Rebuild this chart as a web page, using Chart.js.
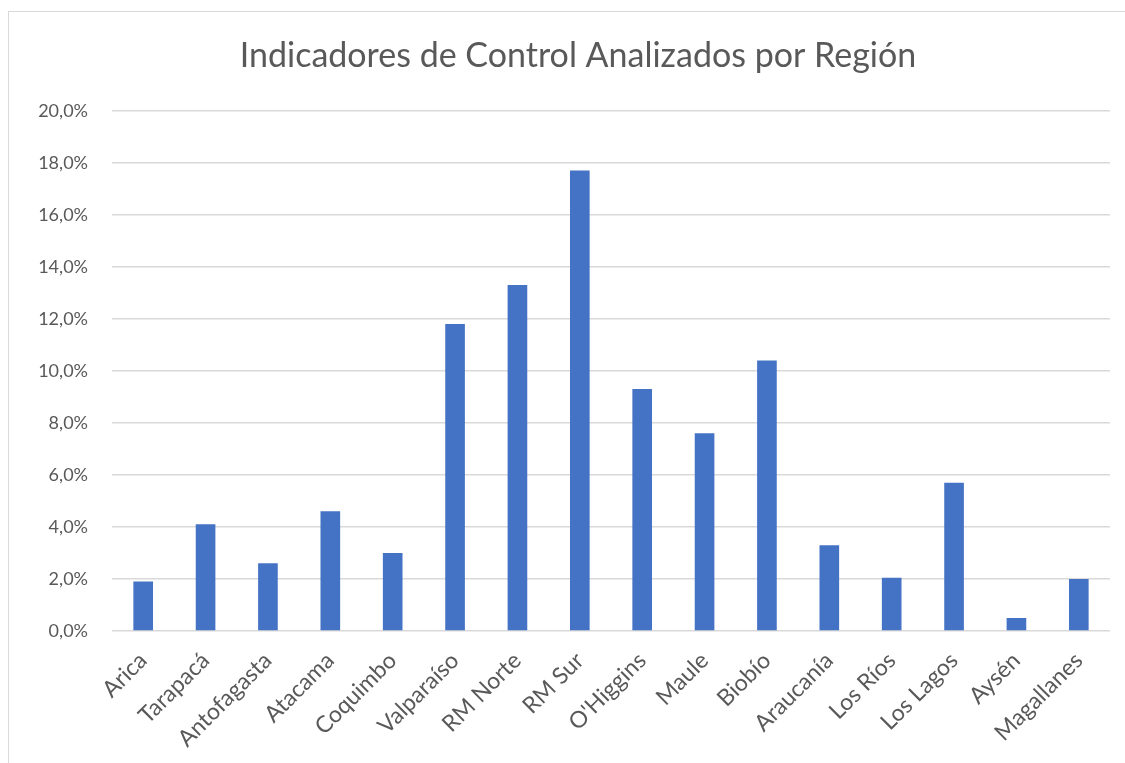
<!DOCTYPE html>
<html>
<head>
<meta charset="utf-8">
<script src="https://cdn.jsdelivr.net/npm/chart.js@4"></script>
<style>
    html, body { margin: 0; padding: 0; background: #fff; overflow: hidden; }
    #box {
        position: absolute;
        left: 8px;
        top: 11px;
        width: 1140px;
        height: 770px;
        border: 1px solid #d9d9d9;
    }
    #chart { display: block; }
</style>
</head>
<body>
<div id="box"><canvas id="chart" width="1138" height="760"></canvas></div>
<script>
// regiones y porcentaje de indicadores analizados
const regiones = ['Arica', 'Tarapacá', 'Antofagasta', 'Atacama', 'Coquimbo', 'Valparaíso',
    'RM Norte', 'RM Sur', "O'Higgins", 'Maule', 'Biobío', 'Araucanía', 'Los Ríos',
    'Los Lagos', 'Aysén', 'Magallanes'];
const porcentajes = [1.9, 4.1, 2.6, 4.6, 3.0, 11.8, 13.3, 17.7, 9.3, 7.6, 10.4, 3.3, 2.05, 5.7, 0.5, 2.0];
const titulo = 'Indicadores de Control Analizados por Región';

const gris = '#595959';
const fuente = 'Lato, "Open Sans", sans-serif';

const ctx = document.getElementById('chart');
new Chart(ctx, {
    type: 'bar',
    data: {
        labels: regiones,
        datasets: [{
            data: porcentajes,
            yAxisID: 'y',
            backgroundColor: '#4472C4',
            borderWidth: 0,
            barPercentage: 0.315,
            categoryPercentage: 1,
        }]
    },
    options: {
        responsive: false,
        animation: false,
        layout: {
            padding: 0
        },
        plugins: {
            legend: { display: false },
            tooltip: { enabled: false },
            title: {
                display: true,
                text: titulo,
                color: gris,
                font: { family: fuente, size: 34, weight: 'normal' },
                padding: { top: 24, bottom: 34 },
            },
        },
        scales: {
            x: {
                grid: { display: false },
                border: { display: false },
                ticks: {
                    color: gris,
                    font: { family: fuente, size: 23 },
                    minRotation: 45,
                    maxRotation: 45,
                    autoSkip: false,
                    padding: 8,
                },
                afterFit: (scale) => { scale.height = 141; },
            },
            y: {
                min: 0,
                max: 20,
                border: { display: false },
                grid: {
                    color: '#d9d9d9',
                    lineWidth: 1.5,
                    drawTicks: false,
                },
                ticks: {
                    stepSize: 2,
                    color: gris,
                    font: { family: fuente, size: 18 },
                    padding: 24,
                    callback: (v) => v.toFixed(1).replace('.', ',') + '%',
                },
                afterFit: (scale) => { scale.width = 103; },
            },
            // eje vacío a la derecha, solo reserva espacio
            derecha: {
                position: 'right',
                grid: { display: false },
                border: { display: false },
                ticks: { display: false },
                afterFit: (scale) => { scale.width = 37; },
            }
        }
    }
});
</script>
</body>
</html>
